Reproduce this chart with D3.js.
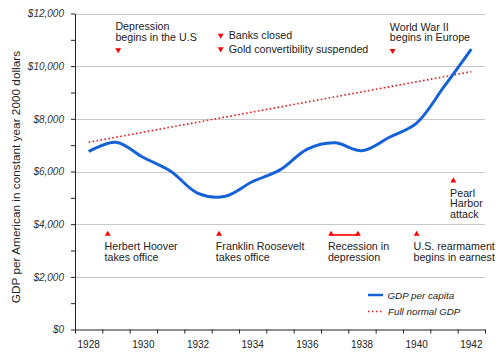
<!DOCTYPE html>
<html>
<head>
<meta charset="utf-8">
<script src="https://cdn.jsdelivr.net/npm/d3@7"></script>
<style>
  html, body { margin: 0; padding: 0; background: #fff; }
  svg { display: block; font-family: "Liberation Sans", Arial, sans-serif; }
</style>
</head>
<body>
<script>
// data (constant year 2000 dollars)
const years        = [1928, 1929, 1930, 1931, 1932, 1933, 1934, 1935, 1936, 1937, 1938, 1939, 1940, 1941, 1942];
const gdpPerCapita = [6760, 7110, 6530, 6010, 5170, 5060, 5620, 6060, 6850, 7090, 6790, 7300, 7840, 9220, 10650];
const normalYears  = [1928, 1942];
const normalGdp    = [7110, 9790];
const yTicks       = [0, 2000, 4000, 6000, 8000, 10000, 12000];
const xLabelYears  = [1928, 1930, 1932, 1934, 1936, 1938, 1940, 1942];
const seriesNames  = ['GDP per capita', 'Full normal GDP'];
const yTitle       = 'GDP per American in constant year 2000 dollars';

// events: date as decimal year, marker height in dollars
const events = [
  {at: 1929.58, value: 10620, dir: 'down', lines: ['Depression', 'begins in the U.S']},
  {at: 1933.33, value: 11170, dir: 'down', lines: ['Banks closed']},
  {at: 1933.33, value: 10650, dir: 'down', lines: ['Gold convertibility suspended']},
  {at: 1939.62, value: 10590, dir: 'down', lines: ['World War II', 'begins in Europe']},
  {at: 1929.20, value: 3620,  dir: 'up',   lines: ['Herbert Hoover', 'takes office']},
  {at: 1933.27, value: 3620,  dir: 'up',   lines: ['Franklin Roosevelt', 'takes office']},
  {at: 1937.37, until: 1938.35, value: 3620, dir: 'up', lines: ['Recession in', 'depression']},
  {at: 1940.50, value: 3620,  dir: 'up',   lines: ['U.S. rearmament', 'begins in earnest']},
  {at: 1941.84, value: 5650,  dir: 'up',   lines: ['Pearl', 'Harbor', 'attack']}
];

const width  = 500;
const height = 358;
const blue   = '#1562d8';
const red    = '#f00';
const fs     = 10.7;

const x = d3.scaleLinear().domain([1928, 1943]).range([75, 485]);
const y = d3.scaleLinear().domain([0, 12000]).range([329.5, 13.5]);

const svg = d3.select('body').append('svg')
    .attr('width', width)
    .attr('height', height);

// grid lines
svg.append('g').selectAll('line')
    .data(yTicks.filter(d => d > 0))
    .enter().append('line')
    .attr('x1', x(1928)).attr('x2', x(1943))
    .attr('y1', d => Math.round(y(d)) + 0.5)
    .attr('y2', d => Math.round(y(d)) + 0.5)
    .attr('stroke', '#c8c8c8')
    .attr('stroke-width', 1.2);

// y axis (minor ticks every 1000)
const yAxis = svg.append('g')
    .attr('transform', 'translate(' + x(1928) + ',0)')
    .call(d3.axisLeft(y)
      .ticks(12)
      .tickSize(4)
      .tickSizeOuter(0)
      .tickPadding(7)
      .tickFormat(d => yTicks.includes(d) ? d3.format('$,')(d) : ''));
yAxis.selectAll('text')
    .style('font-size', '10px')
    .style('font-style', 'italic')
    .attr('fill', '#333');

// x axis: ticks at year boundaries, labels in the middle of each year
const xAxis = svg.append('g')
    .attr('transform', 'translate(0,' + y(0) + ')')
    .call(d3.axisBottom(x)
      .tickValues(years.concat([1943]))
      .tickSize(4)
      .tickSizeOuter(0)
      .tickFormat(''));
svg.selectAll('.domain, .tick line').attr('stroke', '#222');

svg.append('g').selectAll('text')
    .data(xLabelYears)
    .enter().append('text')
    .attr('x', d => x(d + 0.5))
    .attr('y', 348)
    .attr('text-anchor', 'middle')
    .style('font-size', '10px')
    .attr('fill', '#222')
    .text(d => d);

// y title
svg.append('text')
    .attr('transform', 'translate(20,177) rotate(-90)')
    .attr('text-anchor', 'middle')
    .style('font-size', '11.8px')
    .attr('fill', '#222')
    .text(yTitle);

// full normal GDP (dotted)
svg.append('path')
    .datum(normalGdp)
    .attr('fill', 'none')
    .attr('stroke', '#e8141c')
    .attr('stroke-width', 1.6)
    .attr('stroke-dasharray', '1.6,2.4')
    .attr('d', d3.line()
      .x((d, i) => x(normalYears[i] + 0.5))
      .y(d => y(d)));

// GDP per capita
svg.append('path')
    .datum(gdpPerCapita)
    .attr('fill', 'none')
    .attr('stroke', blue)
    .attr('stroke-width', 3)
    .attr('stroke-linejoin', 'round')
    .attr('d', d3.line()
      .x((d, i) => x(years[i] + 0.5))
      .y(d => y(d))
      .curve(d3.curveCatmullRom.alpha(0.5)));

// events
const tri = d3.symbol(d3.symbolTriangle, 15);
const ev = svg.append('g').selectAll('g')
    .data(events)
    .enter().append('g');

ev.filter(d => d.until)
    .append('line')
    .attr('x1', d => x(d.at)).attr('x2', d => x(d.until))
    .attr('y1', d => y(d.value) + 0.8).attr('y2', d => y(d.value) + 0.8)
    .attr('stroke', red)
    .attr('stroke-width', 1.6);

ev.each(function(d) {
  const g  = d3.select(this);
  const mx = x(d.at);
  const my = y(d.value);
  const rot = d.dir === 'down' ? 180 : 0;
  const marks = d.until ? [mx, x(d.until)] : [mx];
  marks.forEach(px => {
    g.append('path')
      .attr('d', tri)
      .attr('transform', 'translate(' + px + ',' + my + ') rotate(' + rot + ')')
      .attr('fill', red);
  });

  let tx, ty, anchor = 'start';
  if (d.dir === 'up') {
    tx = mx - 3.2;
    ty = my + 16;
  } else if (d.lines.length > 1) {
    tx = mx - 2.8;
    ty = my - 9.3 - (d.lines.length - 1) * fs;
  } else {
    tx = mx + 8;
    ty = my + 3.5;
  }
  const t = g.append('text')
      .attr('x', tx)
      .attr('y', ty)
      .attr('text-anchor', anchor)
      .style('font-size', fs + 'px')
      .attr('fill', '#222');
  d.lines.forEach((line, i) => {
    t.append('tspan')
      .attr('x', tx)
      .attr('dy', i === 0 ? 0 : fs)
      .text(line);
  });
});

// legend
const legend = svg.append('g').attr('transform', 'translate(368,295)');
legend.append('line')
    .attr('x1', 0).attr('x2', 15)
    .attr('y1', 0).attr('y2', 0)
    .attr('stroke', blue)
    .attr('stroke-width', 2.5);
legend.append('line')
    .attr('x1', 0).attr('x2', 15)
    .attr('y1', 16.5).attr('y2', 16.5)
    .attr('stroke', '#e8141c')
    .attr('stroke-width', 1.4)
    .attr('stroke-dasharray', '1.4,2.6');
legend.selectAll('text')
    .data(seriesNames)
    .enter().append('text')
    .attr('x', (d, i) => 19.5 + i * 0.5)
    .attr('y', (d, i) => 3.5 + i * 16.5)
    .style('font-size', '9.8px')
    .style('font-style', 'italic')
    .attr('fill', '#222')
    .text(d => d);
</script>
</body>
</html>
